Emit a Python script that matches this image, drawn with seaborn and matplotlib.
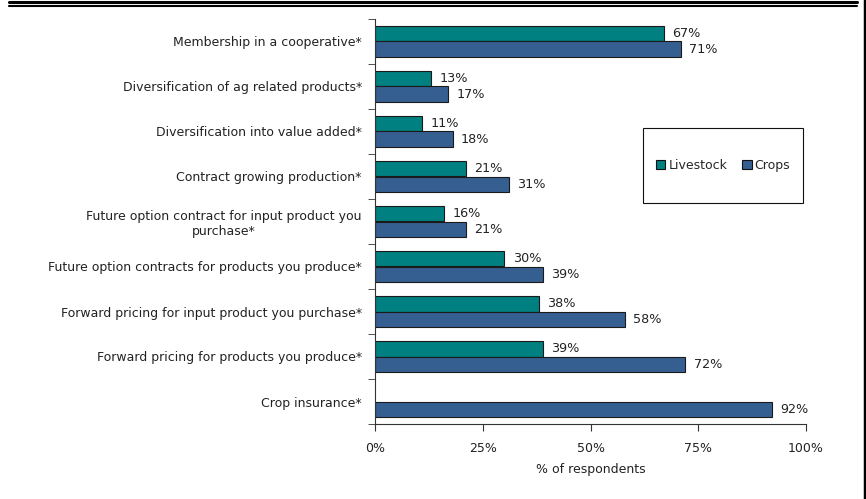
import matplotlib
matplotlib.use("Agg")
import matplotlib.pyplot as plt
from matplotlib.lines import Line2D
from matplotlib.patches import Rectangle
import seaborn as sns
import pandas as pd

categories = [
    "Membership in a cooperative*",
    "Diversification of ag related products*",
    "Diversification into value added*",
    "Contract growing production*",
    "Future option contract for input product you\npurchase*",
    "Future option contracts for products you produce*",
    "Forward pricing for input product you purchase*",
    "Forward pricing for products you produce*",
    "Crop insurance*",
]
livestock = [67, 13, 11, 21, 16, 30, 38, 39, None]
crops = [71, 17, 18, 31, 21, 39, 58, 72, 92]
series = ["Livestock", "Crops"]
colors = ["#008080", "#365F91"]
x_ticks = [0, 25, 50, 75, 100]

df = pd.DataFrame({
    "Practice": categories * 2,
    "Group": ["Livestock"] * len(categories) + ["Crops"] * len(categories),
    "Value": livestock + crops,
})

sns.set_style("white")
plt.rcParams["font.family"] = ["DejaVu Sans"]
plt.rcParams["font.size"] = 9

W, H = 866, 499
fig = plt.figure(figsize=(8.66, 4.99), dpi=100)
ax = fig.add_axes([375 / W, 1 - 424 / H, 431 / W, 405 / H])

sns.barplot(data=df, y="Practice", x="Value", hue="Group", hue_order=series,
            order=categories, palette=colors, orient="h", width=0.67,
            saturation=1, edgecolor="#1a1a1a", linewidth=0.8, ax=ax)

# value labels
for cont in ax.containers:
    labels = ["" if pd.isna(v) else f"{v:.0f}%" for v in cont.datavalues]
    ax.bar_label(cont, labels=labels, padding=6, fontsize=9.2, color="#222222")

ax.set_xlim(0, 100)
ax.set_ylim(len(categories) - 0.5, -0.5)
ax.set_xticks(x_ticks)
ax.set_xticklabels([f"{t}%" for t in x_ticks], fontsize=9)
ax.set_xlabel("% of respondents", fontsize=9, labelpad=6, color="#222222")
ax.set_ylabel("")

# y ticks between categories
ax.set_yticks(range(len(categories)))
ax.set_yticklabels(categories, fontsize=9)
ax.set_yticks([i - 0.5 for i in range(len(categories) + 1)], minor=True)
ax.tick_params(axis="y", which="major", length=0, pad=9.5, labelcolor="#222222")
ax.tick_params(axis="y", which="minor", length=5, direction="out", color="#333333", left=True)
ax.tick_params(axis="x", length=5, direction="out", color="#333333", bottom=True, pad=8,
               labelcolor="#222222")
for lbl in ax.get_yticklabels():
    lbl.set_multialignment("center")

for s in ["top", "right"]:
    ax.spines[s].set_visible(False)
for s in ["left", "bottom"]:
    ax.spines[s].set_color("#333333")
    ax.spines[s].set_linewidth(0.8)

# legend inside a drawn box
handles, labels = ax.get_legend_handles_labels()
ax.get_legend().remove()
bx0, by0, bx1, by1 = 643, 128, 803, 203
fig.add_artist(Rectangle((bx0 / W, 1 - by1 / H), (bx1 - bx0) / W, (by1 - by0) / H,
                         transform=fig.transFigure, fill=True, facecolor="white",
                         edgecolor="#111111", linewidth=0.8, zorder=3))
leg = fig.legend(handles, labels, loc="center",
                 bbox_to_anchor=((bx0 + bx1) / 2 / W, 1 - (by0 + by1) / 2 / H),
                 ncol=2, frameon=False,
                 fontsize=9, handlelength=0.75, handleheight=0.75, handletextpad=0.25,
                 columnspacing=1.2, borderpad=0)
leg.set_zorder(5)
for h in leg.legend_handles:
    h.set_edgecolor("#111111")

# page decorations
fig.add_artist(Line2D([9 / W, 857 / W], [1 - 1.5 / H, 1 - 1.5 / H], color="black", linewidth=2.2))
fig.add_artist(Line2D([9 / W, 857 / W], [1 - 5.5 / H, 1 - 5.5 / H], color="black", linewidth=1.5))
fig.add_artist(Line2D([864.5 / W, 864.5 / W], [0, 1], color="black", linewidth=2.5))

fig.savefig("out.png", dpi=100)
